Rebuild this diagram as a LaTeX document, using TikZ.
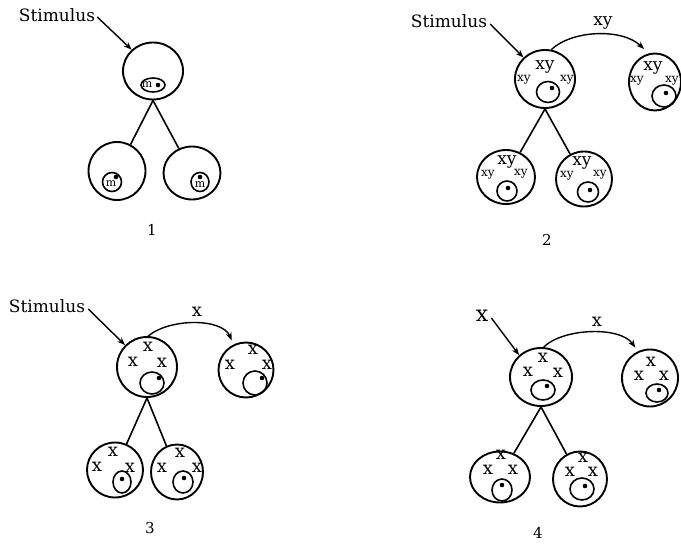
\documentclass[tikz,border=0pt]{standalone}
\usepackage{fontspec}
\setmainfont{DejaVu Serif}
\usetikzlibrary{shapes.geometric,arrows.meta}
\begin{document}
\begin{tikzpicture}[x=1pt,y=-1pt,
  cell/.style={draw, ellipse, line width=1.9pt, inner sep=0pt},
  nuc/.style={draw, ellipse, line width=1.6pt, inner sep=0pt},
  dotc/.style={circle, fill, inner sep=0pt, minimum size=4.6pt},
  branch/.style={line width=1.6pt},
  arr/.style={line width=1.4pt, -{Stealth[length=8pt,width=6pt]}},
  stim/.style={font=\fontsize{17}{17}\selectfont, inner sep=0pt},
  num/.style={font=\fontsize{15}{15}\selectfont, inner sep=0pt},
  big/.style={font=\fontsize{17}{17}\selectfont, inner sep=0pt},
  small/.style={font=\fontsize{12}{12}\selectfont, inner sep=0pt},
  mm/.style={font=\fontsize{11}{11}\selectfont, inner sep=0pt},
  ex/.style={font=\fontsize{18}{18}\selectfont, inner sep=0pt}
]
\useasboundingbox (0,0) rectangle (681,548);

% ---------------- panel 1 ----------------
\node[stim] (s1) at (57,15) {Stimulus};
\node[cell, minimum width=60pt, minimum height=57pt] (c1) at (153,71) {};
\node[nuc, minimum width=24pt, minimum height=14pt] (n1) at (153,85) {};
\node[mm] at (147,85) {m};
\node[dotc] at (158,85) {};
\node[cell, minimum width=57pt, minimum height=58pt] (b1l) at (117,171) {};
\node[nuc, minimum width=19pt, minimum height=19pt] (n1l) at (112,182) {};
\node[mm] at (111,184) {m};
\node[dotc] at (116,177) {};
\node[cell, minimum width=57pt, minimum height=53pt] (b1r) at (192,173) {};
\node[nuc, minimum width=18pt, minimum height=19pt] (n1r) at (200,182) {};
\node[mm] at (200,185) {m};
\node[dotc] at (200,177) {};
\draw[arr] ([xshift=2pt,yshift=-2pt]s1.east) -- (c1.135);
\draw[branch] (c1.south) -- (b1l);
\draw[branch] (c1.south) -- (b1r);
\node[num] (l1) at (152,230) {1};

% ---------------- panel 2 ----------------
\node[stim] (s2) at (449,21) {Stimulus};
\node[cell, minimum width=60pt, minimum height=58pt] (c2) at (545,79) {};
\node[big] at (545,67) {xy};
\node[small] at (524,80) {xy};
\node[small] at (567,80) {xy};
\node[nuc, minimum width=23pt, minimum height=21pt] (n2) at (548,92) {};
\node[dotc] at (552,88) {};
\node[cell, minimum width=52pt, minimum height=57pt] (r2) at (655,82) {};
\node[big] at (653,68) {xy};
\node[small] at (637,81) {xy};
\node[small] at (672,81) {xy};
\node[nuc, minimum width=24pt, minimum height=22pt] (n2r) at (664,96) {};
\node[dotc] at (666,93) {};
\node[cell, minimum width=58pt, minimum height=54pt] (b2l) at (506,177) {};
\node[big] at (507,162) {xy};
\node[small] at (488,175) {xy};
\node[small] at (521,174) {xy};
\node[nuc, minimum width=20pt, minimum height=20pt] (n2l) at (507,191) {};
\node[dotc] at (508,188) {};
\node[cell, minimum width=56pt, minimum height=55pt] (b2r) at (584,179) {};
\node[big] at (582,163) {xy};
\node[small] at (567,176) {xy};
\node[small] at (600,175) {xy};
\node[nuc, minimum width=21pt, minimum height=20pt] (n2b) at (588,192) {};
\node[dotc] at (590,190) {};
\draw[arr] ([xshift=3pt,yshift=-3pt]s2.east) -- (c2.135);
\draw[arr] (c2.78) .. controls (572,30) and (622,28) .. ([yshift=6pt]r2.112);
\node[big] (t2) at (603,23) {xy};
\draw[branch] (c2.south) -- (b2l);
\draw[branch] (c2.south) -- (b2r);
\node[num] (l2) at (547,240) {2};

% ---------------- panel 3 ----------------
\node[stim] (s3) at (47,306) {Stimulus};
\node[cell, minimum width=60pt, minimum height=60pt] (c3) at (147,367) {};
\node[ex] at (148,347) {x};
\node[ex] at (133,362) {x};
\node[ex] at (162,363) {x};
\node[nuc, minimum width=24pt, minimum height=22pt] (n3) at (152,383) {};
\node[dotc] at (159,378) {};
\node[cell, minimum width=55pt, minimum height=55pt] (r3) at (246,370) {};
\node[ex] at (253,350) {x};
\node[ex] at (230,365) {x};
\node[ex] at (267,365) {x};
\node[nuc, minimum width=24pt, minimum height=24pt] (n3r) at (255,383) {};
\node[dotc] at (262,378) {};
\node[cell, minimum width=56pt, minimum height=55pt] (b3l) at (115,470) {};
\node[ex] at (113,452) {x};
\node[ex] at (97,467) {x};
\node[ex] at (130,468) {x};
\node[nuc, minimum width=18pt, minimum height=22pt] (n3l) at (122,482) {};
\node[dotc] at (122,479) {};
\node[cell, minimum width=52pt, minimum height=55pt] (b3r) at (177,472) {};
\node[ex] at (180,453) {x};
\node[ex] at (162,468) {x};
\node[ex] at (197,468) {x};
\node[nuc, minimum width=20pt, minimum height=22pt] (n3b) at (183,482) {};
\node[dotc] at (184,478) {};
\draw[arr] ([xshift=3pt,yshift=-3pt]s3.east) -- (c3.135);
\draw[arr] (c3.88) .. controls (170,318) and (222,318) .. ([yshift=5pt]r3.120);
\node[ex] (t3) at (197,312) {x};
\draw[branch] (c3.south) -- (b3l);
\draw[branch] (c3.south) -- (b3r);
\node[num] (l3) at (150,528) {3};

% ---------------- panel 4 ----------------
\node[font=\fontsize{22}{22}\selectfont, inner sep=0pt] (s4) at (482,316) {x};
\node[cell, minimum width=62pt, minimum height=58pt] (c4) at (541,377) {};
\node[ex] at (543,358) {x};
\node[ex] at (528,372) {x};
\node[ex] at (558,373) {x};
\node[nuc, minimum width=24pt, minimum height=20pt] (n4) at (543,390) {};
\node[dotc] at (547,386) {};
\node[cell, minimum width=56pt, minimum height=57pt] (r4) at (650,378) {};
\node[ex] at (651,362) {x};
\node[ex] at (639,376) {x};
\node[ex] at (664,376) {x};
\node[nuc, minimum width=22pt, minimum height=18pt] (n4r) at (657,393) {};
\node[dotc] at (659,390) {};
\node[cell, minimum width=60pt, minimum height=51pt] (b4l) at (500,477) {};
\node[ex] at (501,455) {x};
\node[ex] at (488,470) {x};
\node[ex] at (513,470) {x};
\node[nuc, minimum width=20pt, minimum height=22pt] (n4l) at (502,490) {};
\node[dotc] at (502,485) {};
\node[cell, minimum width=54pt, minimum height=55pt] (b4r) at (580,479) {};
\node[ex] at (583,458) {x};
\node[ex] at (570,472) {x};
\node[ex] at (593,472) {x};
\node[nuc, minimum width=24pt, minimum height=22pt] (n4b) at (582,489) {};
\node[dotc] at (585,486) {};
\draw[arr] ([xshift=3pt,yshift=-2pt]s4.east) -- (c4.135);
\draw[arr] (c4.85) .. controls (563,328) and (620,326) .. ([yshift=5pt]r4.120);
\node[ex] (t4) at (597,322) {x};
\draw[branch] (c4.south) -- (b4l);
\draw[branch] (c4.south) -- (b4r);
\node[num] (l4) at (538,533) {4};
\end{tikzpicture}
\end{document}
